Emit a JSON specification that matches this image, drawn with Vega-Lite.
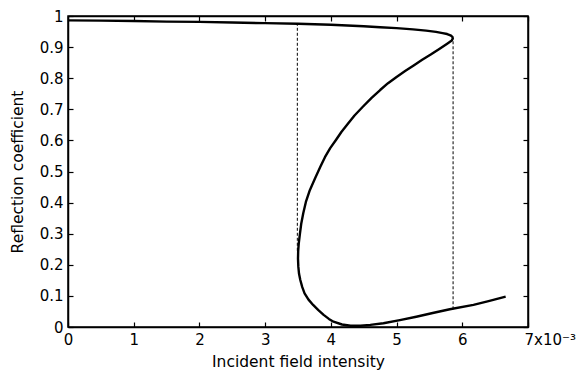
{
  "$schema": "https://vega.github.io/schema/vega-lite/v6.json",
  "autosize": "none",
  "width": 460,
  "height": 311,
  "padding": {"left": 68, "top": 16, "right": 51, "bottom": 44},
  "background": "white",
  "config": {
    "font": "DejaVu Sans",
    "view": {"stroke": "black", "strokeWidth": 1.5},
    "axis": {
      "domainColor": "black", "domainWidth": 1.5,
      "tickColor": "black", "tickWidth": 1.2, "tickSize": -5,
      "labelFont": "DejaVu Sans", "labelFontSize": 15, "labelColor": "black",
      "titleFont": "DejaVu Sans", "titleFontSize": 15.5, "titleFontWeight": "normal", "titleColor": "black",
      "grid": false
    }
  },
  "datasets": {
    "curve": [
      {"i": 1, "x": 0.0, "r": 0.986},
      {"i": 2, "x": 0.5, "r": 0.985},
      {"i": 3, "x": 1.0, "r": 0.984},
      {"i": 4, "x": 1.5, "r": 0.982},
      {"i": 5, "x": 2.0, "r": 0.981},
      {"i": 6, "x": 2.5, "r": 0.979},
      {"i": 7, "x": 3.0, "r": 0.977},
      {"i": 8, "x": 3.5, "r": 0.975},
      {"i": 9, "x": 4.0, "r": 0.972},
      {"i": 10, "x": 4.5, "r": 0.967},
      {"i": 11, "x": 4.75, "r": 0.964},
      {"i": 12, "x": 5.0, "r": 0.961},
      {"i": 13, "x": 5.25, "r": 0.957},
      {"i": 14, "x": 5.45, "r": 0.953},
      {"i": 15, "x": 5.6, "r": 0.949},
      {"i": 16, "x": 5.7, "r": 0.945},
      {"i": 17, "x": 5.77, "r": 0.942},
      {"i": 18, "x": 5.82, "r": 0.938},
      {"i": 19, "x": 5.85, "r": 0.933},
      {"i": 20, "x": 5.855, "r": 0.928},
      {"i": 21, "x": 5.84, "r": 0.921},
      {"i": 22, "x": 5.77, "r": 0.911},
      {"i": 23, "x": 5.65, "r": 0.894},
      {"i": 24, "x": 5.52, "r": 0.876},
      {"i": 25, "x": 5.39, "r": 0.859},
      {"i": 26, "x": 5.26, "r": 0.841},
      {"i": 27, "x": 5.13, "r": 0.823},
      {"i": 28, "x": 5.0, "r": 0.804},
      {"i": 29, "x": 4.87, "r": 0.784},
      {"i": 30, "x": 4.75, "r": 0.762},
      {"i": 31, "x": 4.62, "r": 0.737},
      {"i": 32, "x": 4.49, "r": 0.709},
      {"i": 33, "x": 4.36, "r": 0.68},
      {"i": 34, "x": 4.25, "r": 0.651},
      {"i": 35, "x": 4.16, "r": 0.627},
      {"i": 36, "x": 4.08, "r": 0.602},
      {"i": 37, "x": 3.99, "r": 0.575},
      {"i": 38, "x": 3.91, "r": 0.546},
      {"i": 39, "x": 3.84, "r": 0.515},
      {"i": 40, "x": 3.76, "r": 0.478},
      {"i": 41, "x": 3.68, "r": 0.44},
      {"i": 42, "x": 3.62, "r": 0.402},
      {"i": 43, "x": 3.58, "r": 0.366},
      {"i": 44, "x": 3.55, "r": 0.333},
      {"i": 45, "x": 3.53, "r": 0.301},
      {"i": 46, "x": 3.512, "r": 0.27},
      {"i": 47, "x": 3.503, "r": 0.245},
      {"i": 48, "x": 3.5, "r": 0.22},
      {"i": 49, "x": 3.505, "r": 0.194},
      {"i": 50, "x": 3.515, "r": 0.172},
      {"i": 51, "x": 3.535, "r": 0.151},
      {"i": 52, "x": 3.565, "r": 0.128},
      {"i": 53, "x": 3.6, "r": 0.108},
      {"i": 54, "x": 3.66, "r": 0.088},
      {"i": 55, "x": 3.73, "r": 0.071},
      {"i": 56, "x": 3.81, "r": 0.054},
      {"i": 57, "x": 3.89, "r": 0.039},
      {"i": 58, "x": 3.97, "r": 0.026},
      {"i": 59, "x": 4.04, "r": 0.017},
      {"i": 60, "x": 4.17, "r": 0.008},
      {"i": 61, "x": 4.3, "r": 0.004},
      {"i": 62, "x": 4.45, "r": 0.004},
      {"i": 63, "x": 4.6, "r": 0.007},
      {"i": 64, "x": 4.8, "r": 0.012},
      {"i": 65, "x": 5.05, "r": 0.022},
      {"i": 66, "x": 5.3, "r": 0.033},
      {"i": 67, "x": 5.55, "r": 0.045},
      {"i": 68, "x": 5.81, "r": 0.057},
      {"i": 69, "x": 6.17, "r": 0.071},
      {"i": 70, "x": 6.4, "r": 0.083},
      {"i": 71, "x": 6.66, "r": 0.0975}
    ],
    "dash": [
      {"x": 3.49, "r1": 0.245, "r2": 0.976},
      {"x": 5.86, "r1": 0.057, "r2": 0.93}
    ]
  },
  "layer": [
    {
      "data": {"name": "curve"},
      "mark": {"type": "line", "color": "black", "strokeWidth": 2.4, "interpolate": "linear", "strokeJoin": "round"},
      "encoding": {
        "x": {
          "field": "x", "type": "quantitative",
          "scale": {"domain": [0, 7], "nice": false, "zero": false},
          "axis": {
            "orient": "bottom",
            "values": [0, 1, 2, 3, 4, 5, 6, 7],
            "labelExpr": "datum.value == 7 ? '7x10⁻³' : datum.label",
            "labelAlign": {"condition": {"test": "datum.value == 7", "value": "left"}, "value": "center"},
            "labelOffset": {"condition": {"test": "datum.value == 7", "value": -4}, "value": 0},
            "labelPadding": 10,
            "title": "Incident field intensity",
            "titlePadding": 7
          }
        },
        "y": {
          "field": "r", "type": "quantitative",
          "scale": {"domain": [0, 1], "nice": false},
          "axis": {
            "orient": "left",
            "values": [0, 0.1, 0.2, 0.3, 0.4, 0.5, 0.6, 0.7, 0.8, 0.9, 1],
            "format": "~g",
            "labelPadding": 10,
            "title": "Reflection coefficient",
            "titlePadding": 14
          }
        },
        "order": {"field": "i", "type": "quantitative"}
      }
    },
    {
      "data": {"name": "dash"},
      "mark": {"type": "rule", "color": "black", "strokeWidth": 1, "strokeDash": [3, 2]},
      "encoding": {
        "x": {
          "field": "x", "type": "quantitative",
          "axis": {"orient": "top", "values": [0, 1, 2, 3, 4, 5, 6, 7], "labels": false, "title": null}
        },
        "y": {
          "field": "r1", "type": "quantitative",
          "axis": {"orient": "right", "values": [0, 0.1, 0.2, 0.3, 0.4, 0.5, 0.6, 0.7, 0.8, 0.9, 1], "labels": false, "title": null}
        },
        "y2": {"field": "r2"}
      }
    }
  ],
  "resolve": {"axis": {"x": "independent", "y": "independent"}}
}
